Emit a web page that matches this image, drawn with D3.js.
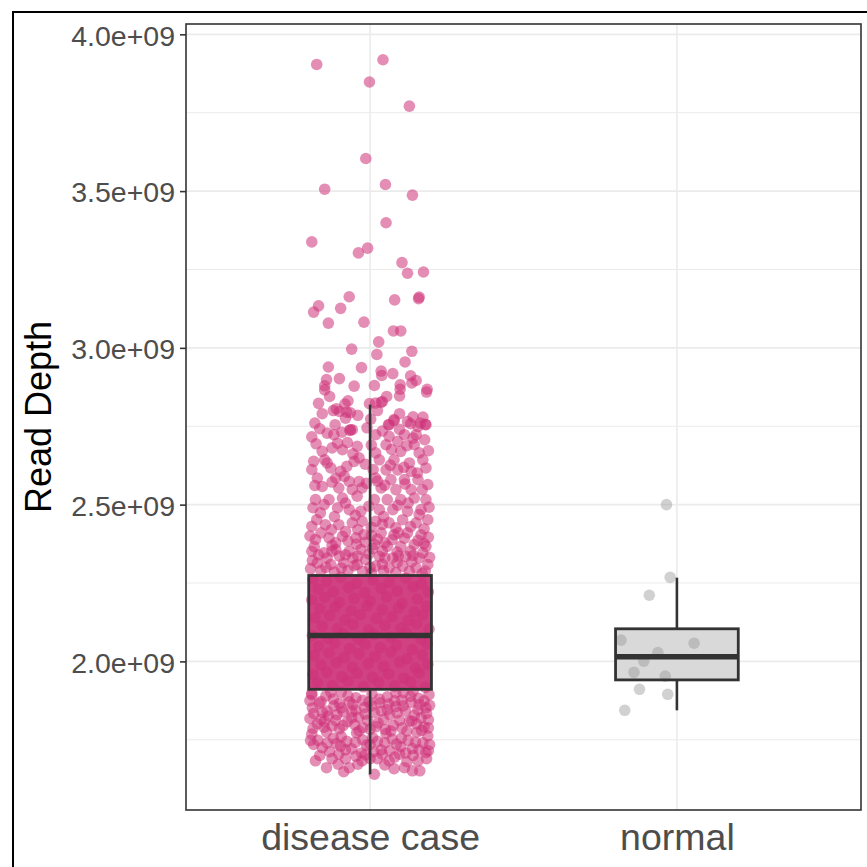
<!DOCTYPE html>
<html>
<head>
<meta charset="utf-8">
<script src="https://cdn.jsdelivr.net/npm/d3@7"></script>
<style>
  body { margin: 0; background: #fff; }
  svg { display: block; font-family: "Liberation Sans", Arial, sans-serif; }
</style>
</head>
<body>
<div id="chart"></div>
<script>
// categories and box statistics (values in 1e9 reads)
const categories = ['disease case', 'normal'];
const boxLower = [1.640, 1.844];
const boxQ1 = [1.911, 1.941];
const boxMedian = [2.083, 2.015];
const boxQ3 = [2.274, 2.104];
const boxUpper = [2.819, 2.267];

// y tick labels
const yMajor = [2.0, 2.5, 3.0, 3.5, 4.0];
const yMinor = [1.75, 2.25, 2.75, 3.25, 3.75];
const yLabels = ['2.0e+09', '2.5e+09', '3.0e+09', '3.5e+09', '4.0e+09'];

// jittered points: [jitter (-1..1), read depth in 1e9]
const diseasePoints = [
  [-0.87,3.904],[0.21,3.919],[-0.01,3.848],[0.64,3.771],[-0.07,3.604],[-0.74,3.506],[0.25,3.521],[0.69,3.487],[0.26,3.399],[-0.95,3.338],
  [-0.19,3.303],[-0.04,3.318],[0.52,3.272],[0.61,3.238],[0.87,3.242],[-0.34,3.163],[-0.84,3.134],[-0.92,3.114],[-0.48,3.126],[0.40,3.153],
  [0.79,3.157],[0.80,3.162],[-0.68,3.079],[-0.10,3.082],[0.38,3.054],[0.50,3.054],[0.14,3.019],[-0.30,2.996],[0.68,2.989],[0.11,2.979],
  [0.57,2.955],[-0.68,2.939],[-0.14,2.937],[-0.71,2.899],[-0.50,2.902],[0.18,2.926],[0.19,2.912],[0.37,2.918],[0.66,2.911],[0.75,2.896],
  [0.68,2.888],[-0.74,2.879],[-0.74,2.866],[-0.26,2.878],[0.07,2.880],[0.49,2.882],[0.49,2.868],[0.48,2.847],[0.93,2.868],[0.92,2.859],
  [-0.66,2.845],[0.27,2.845],[-0.84,2.823],[-0.36,2.831],[-0.41,2.821],[0.18,2.826],[-0.01,2.822],
  [-0.60,2.800],[-0.50,2.797],[-0.38,2.795],[-0.32,2.793],[-0.55,2.806],[0.01,2.773],[0.39,2.768],[0.61,2.765],[0.86,2.779],
  [0.66,2.758],[0.82,2.760],[0.90,2.756],[0.30,2.755],[-0.57,2.755],[-0.29,2.739],[-0.33,2.737],
  [-0.78,2.790],[-0.20,2.785],[0.12,2.800],[0.48,2.790],[0.70,2.780],[-0.90,2.760],
  // middle band
  [-0.40,2.776],[-0.32,2.739],[-0.95,2.716],[-0.70,2.728],[-0.59,2.723],[-0.53,2.696],[-0.37,2.698],[-0.78,2.670],[-0.92,2.638],[-0.74,2.643],
  [-0.45,2.675],[-0.21,2.686],[-0.18,2.649],[-0.26,2.638],[-0.64,2.617],[-0.48,2.606],[-0.86,2.585],[-0.56,2.585],[-0.34,2.574],[-0.18,2.574],
  [-0.78,2.558],[-0.51,2.553],[-0.29,2.548],[-0.13,2.553],[-0.89,2.516],[-0.67,2.516],[-0.45,2.521],[-0.21,2.527],[-0.81,2.474],[-0.53,2.490],
  [-0.34,2.484],[-0.15,2.479],[-0.95,2.431],[-0.73,2.436],[-0.51,2.436],[-0.29,2.442],[-0.13,2.447],[-0.89,2.389],[-0.67,2.394],[-0.45,2.399],
  [-0.23,2.394],[-0.10,2.404],[-0.95,2.351],[-0.75,2.346],[-0.56,2.357],[-0.34,2.351],[-0.15,2.357],[-0.86,2.314],[-0.64,2.309],[-0.43,2.314],
  [-0.21,2.309],[-0.07,2.325],
  [0.09,2.824],[0.20,2.829],[0.31,2.755],[0.39,2.771],[0.78,2.749],[0.91,2.755],[0.09,2.723],[0.31,2.718],[0.56,2.723],[0.75,2.723],
  [0.26,2.691],[0.45,2.702],[0.72,2.691],[0.89,2.707],[0.09,2.665],[0.50,2.670],[0.80,2.665],[0.15,2.643],[0.39,2.643],[0.64,2.633],
  [0.86,2.643],[0.26,2.611],[0.45,2.611],[0.67,2.606],[0.91,2.617],[0.09,2.585],[0.34,2.580],[0.56,2.580],[0.78,2.580],[0.94,2.564],
  [0.18,2.553],[0.42,2.548],[0.67,2.548],[0.07,2.516],[0.28,2.516],[0.50,2.516],[0.72,2.521],[0.91,2.516],[0.15,2.484],[0.37,2.484],
  [0.61,2.479],[0.83,2.484],[0.09,2.447],[0.31,2.442],[0.53,2.452],[0.75,2.442],[0.94,2.452],[0.18,2.410],[0.39,2.404],[0.61,2.410],
  [0.83,2.404],[0.07,2.373],[0.28,2.367],[0.50,2.367],[0.72,2.373],[0.91,2.367],[0.15,2.335],[0.37,2.330],[0.58,2.335],[0.80,2.330],
  [0.09,2.304],[0.31,2.298],[0.53,2.304],[0.75,2.298],[0.94,2.309],
  [-0.82,2.742],[-0.46,2.731],[-0.05,2.745],[0.20,2.735],[0.48,2.740],[0.70,2.712],
  [-0.88,2.694],[-0.62,2.681],[-0.28,2.662],[0.02,2.690],[0.35,2.676],[0.60,2.688],[0.95,2.672],
  [-0.95,2.612],[-0.70,2.633],[-0.38,2.622],[-0.08,2.629],[0.05,2.612],[0.33,2.626],[0.55,2.619],[0.77,2.601],
  [-0.90,2.561],[-0.62,2.572],[-0.42,2.590],[-0.06,2.568],[0.12,2.575],[0.24,2.562],[0.57,2.566],[0.85,2.548],
  [-0.93,2.490],[-0.75,2.500],[-0.58,2.462],[-0.40,2.505],[-0.24,2.466],[-0.02,2.495],[0.22,2.462],[0.45,2.498],[0.62,2.505],[0.80,2.468],[0.96,2.492],
  [-0.87,2.452],[-0.63,2.420],[-0.40,2.414],[-0.20,2.420],[0.02,2.428],[0.20,2.437],[0.42,2.426],[0.66,2.430],[0.88,2.423],
  [-0.91,2.366],[-0.80,2.410],[-0.56,2.378],[-0.36,2.384],[-0.08,2.380],[0.12,2.390],[0.36,2.388],[0.56,2.393],[0.78,2.386],[0.95,2.396],
  [-0.94,2.322],[-0.70,2.330],[-0.50,2.336],[-0.28,2.330],[-0.02,2.343],[0.20,2.352],[0.44,2.349],[0.66,2.352],[0.86,2.346],
  [-0.80,2.290],[-0.58,2.285],[-0.36,2.290],[-0.12,2.287],[0.02,2.282],[0.22,2.289],[0.42,2.283],[0.64,2.287],[0.85,2.280],
  [-0.97,2.296],[-0.72,2.300],[-0.47,2.298],[-0.26,2.305],[0.00,2.300],[0.20,2.310],[0.44,2.315],[0.68,2.318],[0.90,2.288],
  [-0.84,2.340],[-0.62,2.352],[-0.40,2.340],[-0.20,2.336],[0.04,2.360],[0.24,2.330],[0.46,2.336],[0.70,2.338],[0.97,2.332],
  [-0.98,2.400],[-0.62,2.370],[-0.22,2.374],[0.02,2.402],[0.24,2.378],[0.46,2.410],[0.88,2.376],
  // box band
  [-0.93,2.262],[-0.71,2.255],[-0.48,2.268],[-0.22,2.249],[0.05,2.260],[0.31,2.252],[0.58,2.266],[0.84,2.247],
  [-0.85,2.231],[-0.60,2.222],[-0.35,2.236],[-0.09,2.219],[0.18,2.233],[0.44,2.224],[0.70,2.238],[0.95,2.221],
  [-0.95,2.196],[-0.74,2.204],[-0.50,2.188],[-0.26,2.201],[0.00,2.192],[0.27,2.206],[0.52,2.185],[0.77,2.199],
  [-0.82,2.168],[-0.57,2.174],[-0.31,2.161],[-0.05,2.177],[0.20,2.165],[0.46,2.171],[0.72,2.158],[0.92,2.176],
  [-0.90,2.139],[-0.66,2.146],[-0.41,2.132],[-0.16,2.149],[0.10,2.137],[0.36,2.143],[0.62,2.130],[0.86,2.148],
  [-0.78,2.112],[-0.53,2.104],[-0.28,2.118],[-0.02,2.101],[0.24,2.115],[0.50,2.106],[0.76,2.120],[0.96,2.103],
  [-0.94,2.083],[-0.69,2.074],[-0.44,2.090],[-0.19,2.071],[0.07,2.086],[0.33,2.077],[0.59,2.092],[0.83,2.069],
  [-0.84,2.049],[-0.58,2.058],[-0.33,2.041],[-0.08,2.055],[0.17,2.044],[0.43,2.052],[0.69,2.038],[0.93,2.056],
  [-0.91,2.019],[-0.67,2.027],[-0.42,2.012],[-0.18,2.024],[0.08,2.015],[0.34,2.030],[0.60,2.009],[0.85,2.021],
  [-0.80,1.988],[-0.55,1.996],[-0.29,1.981],[-0.03,1.993],[0.22,1.984],[0.48,1.998],[0.74,1.979],[0.94,1.991],
  [-0.93,1.958],[-0.70,1.965],[-0.46,1.951],[-0.21,1.962],[0.04,1.949],[0.30,1.960],[0.55,1.946],[0.80,1.963],
  [-0.86,1.931],[-0.61,1.924],[-0.36,1.937],[-0.11,1.919],[0.14,1.933],[0.40,1.921],[0.66,1.935],[0.90,1.917],
  // lower band
  [-0.95,1.898],[-0.72,1.890],[-0.47,1.902],[-0.23,1.884],[0.03,1.896],[0.28,1.887],[0.54,1.900],[0.79,1.882],[0.96,1.894],
  [-0.83,1.866],[-0.59,1.858],[-0.34,1.871],[-0.09,1.853],[0.16,1.868],[0.42,1.856],[0.67,1.870],[0.91,1.852],
  [-0.92,1.834],[-0.68,1.826],[-0.44,1.840],[-0.19,1.822],[0.07,1.837],[0.32,1.829],[0.58,1.842],[0.83,1.820],
  [-0.86,1.801],[-0.62,1.794],[-0.37,1.808],[-0.12,1.789],[0.13,1.804],[0.38,1.796],[0.64,1.810],[0.88,1.791],
  [-0.95,1.768],[-0.71,1.775],[-0.47,1.760],[-0.22,1.772],[0.04,1.757],[0.26,1.770],[0.51,1.755],[0.76,1.774],[0.94,1.762],
  [-0.78,1.725],[-0.55,1.738],[-0.30,1.721],[-0.06,1.733],[0.18,1.718],[0.43,1.736],[0.69,1.722],[0.91,1.709],
  [-0.51,1.704],[-0.23,1.698],[0.20,1.704],[0.48,1.704],
  [-0.89,1.683],[-0.71,1.661],[-0.43,1.648],[-0.34,1.661],[-0.13,1.683],[0.07,1.640],[0.31,1.683],[0.39,1.658],[0.56,1.661],
  [0.69,1.651],[0.81,1.651],[0.78,1.683],
  [-0.60,1.880],[-0.36,1.890],[-0.12,1.876],[0.15,1.880],[0.40,1.874],[0.66,1.888],[0.88,1.874],
  [-0.94,1.852],[-0.70,1.842],[-0.47,1.852],[-0.23,1.845],[0.02,1.858],[0.28,1.846],[0.54,1.858],[0.78,1.846],
  [-0.80,1.815],[-0.56,1.812],[-0.30,1.820],[-0.04,1.812],[0.22,1.815],[0.48,1.812],[0.72,1.828],[0.95,1.814],
  [-0.93,1.786],[-0.74,1.808],[-0.50,1.785],[-0.25,1.798],[0.00,1.784],[0.25,1.783],[0.52,1.788],[0.76,1.800],[0.95,1.788],
  [-0.85,1.748],[-0.60,1.755],[-0.38,1.745],[-0.12,1.750],[0.12,1.745],[0.36,1.752],[0.62,1.748],[0.86,1.740],
  [-0.92,1.735],[-0.66,1.712],[-0.40,1.718],[-0.14,1.708],[0.06,1.712],[0.32,1.715],[0.58,1.708],[0.80,1.718],
  [-0.62,1.690],[-0.20,1.672],[0.00,1.690],[0.24,1.670],[0.60,1.680],[-0.52,1.672],[0.92,1.690],
  [-0.98,1.875],[-0.80,1.872],[-0.50,1.866],[-0.28,1.862],[-0.02,1.870],[0.30,1.864],[0.52,1.876],[0.80,1.862],[0.97,1.860],
  [-0.98,1.818],[-0.78,1.838],[-0.54,1.830],[-0.30,1.840],[-0.08,1.832],[0.18,1.842],[0.44,1.836],[0.68,1.810],[0.92,1.834],
  [-0.75,1.790],[-0.44,1.795],[-0.18,1.778],[0.10,1.792],[0.34,1.778],[0.60,1.778],[0.84,1.780],
  [-0.97,1.748],[-0.70,1.740],[-0.48,1.730],[-0.24,1.742],[0.00,1.735],[0.24,1.740],[0.50,1.728],[0.74,1.742],[0.97,1.735],
  [-0.82,1.700],[-0.40,1.690],[-0.08,1.702],[0.12,1.690],[0.40,1.695],[0.70,1.700],[0.95,1.715],
  [-0.95,1.893],[-0.64,1.902],[0.42,1.900],[0.70,1.905]
];
const normalPoints = [
  [-0.17,2.500],[-0.11,2.268],[-0.45,2.211],[-0.91,2.068],[0.28,2.058],[-0.31,2.028],
  [-0.54,2.001],[-0.70,1.965],[-0.19,1.953],[-0.61,1.911],[-0.15,1.895],[-0.85,1.844]
];

const pointColors = ['#CD3278', '#999999'];
const boxFills = ['#CD3278', '#D9D9D9'];

const width = 867;
const height = 867;
const panel = { left: 186, right: 861, top: 24, bottom: 810 };
const boxWidth = 0.4;
const jitterWidth = 0.2;

const svg = d3.select('#chart')
  .append('svg')
  .attr('width', width)
  .attr('height', height);

// outer frame (its right and bottom sides fall outside the picture)
svg.append('rect')
  .attr('x', 13).attr('y', 12)
  .attr('width', 900).attr('height', 900)
  .attr('fill', 'none')
  .attr('stroke', '#000')
  .attr('stroke-width', 2);

const allValues = diseasePoints.concat(normalPoints).map(d => d[1]).concat(boxLower, boxUpper);
const vMin = d3.min(allValues) * 1e9;
const vMax = d3.max(allValues) * 1e9;
const pad = (vMax - vMin) * 0.05;

const yScale = d3.scaleLinear()
  .domain([vMin - pad, vMax + pad])
  .range([panel.bottom, panel.top]);

const xScale = d3.scalePoint()
  .domain(categories)
  .range([panel.left, panel.right])
  .padding(0.6);
const unit = xScale.step();

// grid
const grid = svg.append('g');
grid.selectAll('line.minor')
  .data(yMinor)
  .enter()
  .append('line')
  .attr('x1', panel.left).attr('x2', panel.right)
  .attr('y1', d => yScale(d * 1e9)).attr('y2', d => yScale(d * 1e9))
  .attr('stroke', '#EBEBEB').attr('stroke-width', 1);
grid.selectAll('line.major')
  .data(yMajor)
  .enter()
  .append('line')
  .attr('x1', panel.left).attr('x2', panel.right)
  .attr('y1', d => yScale(d * 1e9)).attr('y2', d => yScale(d * 1e9))
  .attr('stroke', '#EBEBEB').attr('stroke-width', 1.6);
grid.selectAll('line.vert')
  .data(categories)
  .enter()
  .append('line')
  .attr('x1', d => xScale(d)).attr('x2', d => xScale(d))
  .attr('y1', panel.top).attr('y2', panel.bottom)
  .attr('stroke', '#EBEBEB').attr('stroke-width', 1.6);

// box fills
svg.append('g')
  .selectAll('rect')
  .data(categories)
  .enter()
  .append('rect')
  .attr('x', d => xScale(d) - boxWidth / 2 * unit)
  .attr('width', boxWidth * unit)
  .attr('y', (d, i) => yScale(boxQ3[i] * 1e9))
  .attr('height', (d, i) => yScale(boxQ1[i] * 1e9) - yScale(boxQ3[i] * 1e9))
  .attr('fill', (d, i) => boxFills[i])
  .attr('fill-opacity', (d, i) => i === 0 ? 0.92 : 1);

// jittered points
[diseasePoints, normalPoints].forEach(function(points, i) {
  svg.append('g')
    .selectAll('circle')
    .data(points)
    .enter()
    .append('circle')
    .attr('cx', d => xScale(categories[i]) + d[0] * jitterWidth * unit)
    .attr('cy', d => yScale(d[1] * 1e9))
    .attr('r', 5.8)
    .attr('fill', pointColors[i])
    .attr('fill-opacity', i === 0 ? 0.55 : 0.45);
});

// box outlines, whiskers, medians
const boxes = svg.append('g')
  .selectAll('g')
  .data(categories)
  .enter()
  .append('g');
boxes.append('line')
  .attr('x1', d => xScale(d)).attr('x2', d => xScale(d))
  .attr('y1', (d, i) => yScale(boxQ3[i] * 1e9)).attr('y2', (d, i) => yScale(boxUpper[i] * 1e9))
  .attr('stroke', '#333').attr('stroke-width', 2.6);
boxes.append('line')
  .attr('x1', d => xScale(d)).attr('x2', d => xScale(d))
  .attr('y1', (d, i) => yScale(boxQ1[i] * 1e9)).attr('y2', (d, i) => yScale(boxLower[i] * 1e9))
  .attr('stroke', '#333').attr('stroke-width', 2.6);
boxes.append('rect')
  .attr('x', d => xScale(d) - boxWidth / 2 * unit)
  .attr('width', boxWidth * unit)
  .attr('y', (d, i) => yScale(boxQ3[i] * 1e9))
  .attr('height', (d, i) => yScale(boxQ1[i] * 1e9) - yScale(boxQ3[i] * 1e9))
  .attr('fill', 'none')
  .attr('stroke', '#333').attr('stroke-width', 2.8);
boxes.append('line')
  .attr('x1', d => xScale(d) - boxWidth / 2 * unit).attr('x2', d => xScale(d) + boxWidth / 2 * unit)
  .attr('y1', (d, i) => yScale(boxMedian[i] * 1e9)).attr('y2', (d, i) => yScale(boxMedian[i] * 1e9))
  .attr('stroke', '#333').attr('stroke-width', 5.5);

// panel border
svg.append('rect')
  .attr('x', panel.left).attr('y', panel.top)
  .attr('width', panel.right - panel.left)
  .attr('height', panel.bottom - panel.top)
  .attr('fill', 'none')
  .attr('stroke', '#333')
  .attr('stroke-width', 1.6);

// y axis
const yAxis = d3.axisLeft(yScale)
  .tickValues(yMajor.map(d => d * 1e9))
  .tickFormat((d, i) => yLabels[i])
  .tickSize(6)
  .tickPadding(5);
const yAxisG = svg.append('g')
  .attr('transform', 'translate(' + panel.left + ',0)')
  .call(yAxis);
yAxisG.select('.domain').remove();
yAxisG.selectAll('line').attr('stroke', '#333').attr('stroke-width', 1.6);
yAxisG.selectAll('text')
  .attr('fill', '#4D4D4D')
  .attr('font-size', '28.5px')
  .attr('font-family', '"Liberation Sans", Arial, sans-serif')
  .attr('dy', '0.38em');

// x axis labels
const xAxis = d3.axisBottom(xScale).tickSize(0).tickPadding(13);
const xAxisG = svg.append('g')
  .attr('transform', 'translate(0,' + panel.bottom + ')')
  .call(xAxis);
xAxisG.select('.domain').remove();
xAxisG.selectAll('text')
  .attr('fill', '#4D4D4D')
  .attr('font-size', '37.5px')
  .attr('font-family', '"Liberation Sans", Arial, sans-serif');

// y title
svg.append('text')
  .attr('transform', 'translate(51,' + ((panel.top + panel.bottom) / 2) + ') rotate(-90)')
  .attr('text-anchor', 'middle')
  .attr('font-size', '36px')
  .attr('fill', '#000')
  .text('Read Depth');
</script>
</body>
</html>
